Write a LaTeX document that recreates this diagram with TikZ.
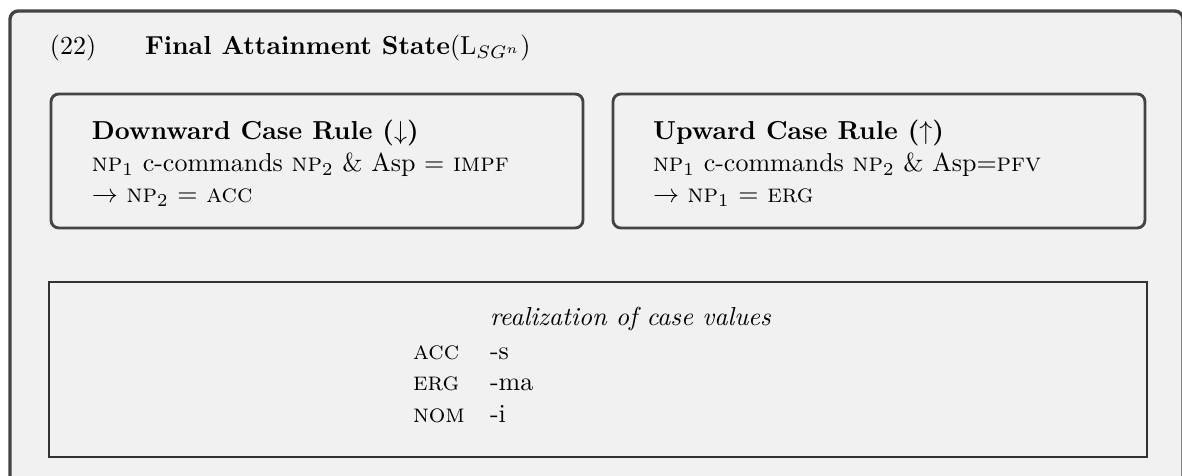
\documentclass[tikz,border=0pt]{standalone}
\definecolor{bg}{HTML}{F1F1F1}
\definecolor{framecol}{HTML}{444444}
\definecolor{tablecol}{HTML}{333333}
\begin{document}
\begin{tikzpicture}[x=0.3846pt,y=-0.3846pt,
  txt/.style={anchor=base west, inner sep=0pt, outer sep=0pt},
  outerbox/.style={draw=framecol, fill=bg, line width=1.3pt, rounded corners=3.2pt},
  rulebox/.style={draw=framecol, fill=bg, line width=1.1pt, rounded corners=3pt},
  tablebox/.style={draw=tablecol, line width=0.6pt}]
\useasboundingbox (0,0) rectangle (1182,476);
\begin{scope}
  \clip (0,0) rectangle (1182,476);
  \draw[outerbox] (10,11) rectangle (1183,530);
\end{scope}
% title
\node[txt] (num) at (50,55) {(22)};
\node[txt] (title) at (145,55) {\textbf{Final Attainment State}(L$_{SG^n}$)};
% rule boxes
\draw[rulebox] (51,94) rectangle (583,228);
\draw[rulebox] (613,94) rectangle (1145,228);
\node[txt] (dhead) at (92,140) {\textbf{Downward Case Rule ($\downarrow$)}};
\node[txt] (dcond) at (92,172) {\textsc{np}$_1$ c-commands \textsc{np}$_2$ \& Asp $=$ \textsc{impf}};
\node[txt] (dres) at (92,203) {$\rightarrow$ \textsc{np}$_2$ $=$ \textsc{acc}};
\node[txt] (uhead) at (653,140) {\textbf{Upward Case Rule ($\uparrow$)}};
\node[txt] (ucond) at (653,172) {\textsc{np}$_1$ c-commands \textsc{np}$_2$ \& Asp$=$\textsc{pfv}};
\node[txt] (ures) at (653,203) {$\rightarrow$ \textsc{np}$_1$ $=$ \textsc{erg}};
% realization table
\draw[tablebox] (49,282) rectangle (1147,457);
\node[txt] (rhead) at (490,326) {\textit{realization of case values}};
\node[txt] (acc) at (413,360) {\textsc{acc}};
\node[txt] (accs) at (490,360) {-s};
\node[txt] (erg) at (413,391) {\textsc{erg}};
\node[txt] (ergs) at (490,391) {-ma};
\node[txt] (nom) at (413,423) {\textsc{nom}};
\node[txt] (noms) at (490,423) {-i};
\end{tikzpicture}
\end{document}
